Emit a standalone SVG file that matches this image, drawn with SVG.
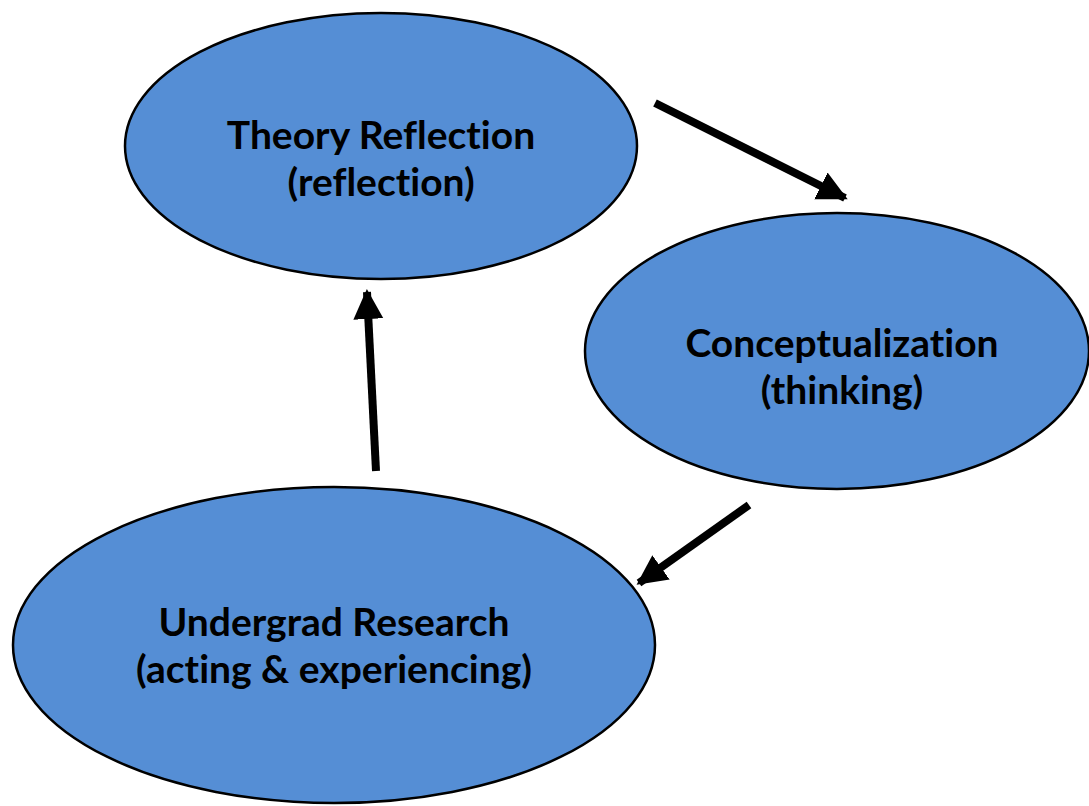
<svg xmlns="http://www.w3.org/2000/svg" width="1089" height="806" viewBox="0 0 1089 806">
  <style>
    .node { fill: #558ED5; stroke: #000; stroke-width: 2.5; }
    .label { font-family: Lato, "Open Sans", "Liberation Sans", sans-serif; font-weight: bold; font-size: 39px; fill: #000; text-anchor: middle; font-variant-ligatures: none; }
    .conn { stroke: #000; stroke-width: 8; fill: none; marker-end: url(#head); }
  </style>
  <defs>
    <marker id="head" markerUnits="userSpaceOnUse" markerWidth="32" markerHeight="32" refX="27" refY="15" orient="auto">
      <path d="M0,0 L30,15 L0,30 Z" fill="#000"/>
    </marker>
  </defs>
  <rect width="1089" height="806" fill="#fff"/>

  <g id="theory-reflection">
    <ellipse class="node" cx="381" cy="146" rx="256" ry="133"/>
    <text class="label" x="381" y="149">Theory Reflection</text>
    <text class="label" x="381" y="196">(reflection)</text>
  </g>

  <g id="conceptualization">
    <ellipse class="node" cx="837" cy="351" rx="252" ry="138"/>
    <text class="label" x="842" y="357">Conceptualization</text>
    <text class="label" x="842" y="404">(thinking)</text>
  </g>

  <g id="undergrad-research">
    <ellipse class="node" cx="334" cy="645" rx="321" ry="158"/>
    <text class="label" x="334" y="636">Undergrad Research</text>
    <text class="label" x="334" y="683">(acting &amp; experiencing)</text>
  </g>

  <g id="connectors">
    <line class="conn" x1="655" y1="103" x2="845" y2="198"/>
    <line class="conn" x1="749" y1="505" x2="639" y2="583"/>
    <line class="conn" x1="376" y1="471" x2="367" y2="292"/>
  </g>
</svg>
